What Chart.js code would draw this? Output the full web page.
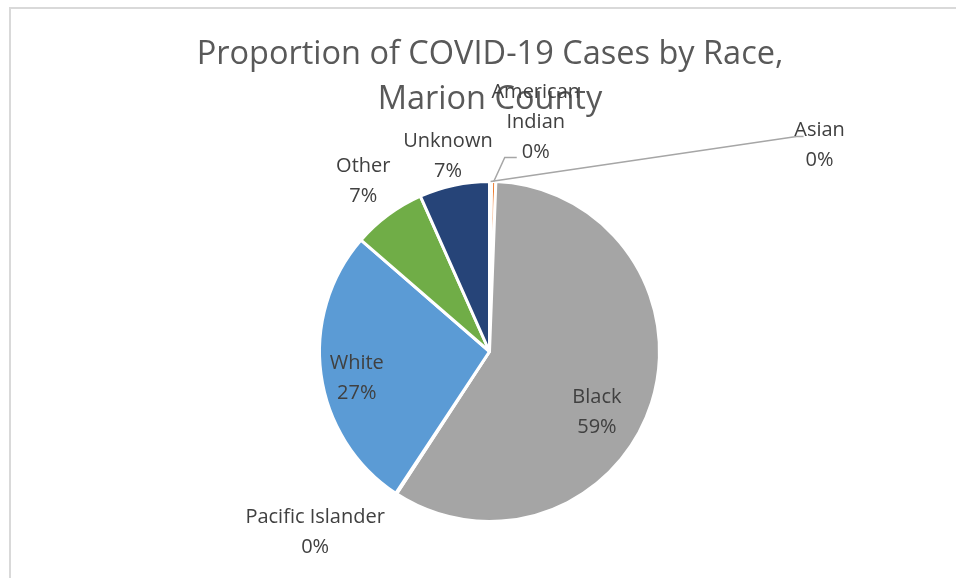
<!DOCTYPE html>
<html>
<head>
<meta charset="utf-8">
<script src="https://cdn.jsdelivr.net/npm/chart.js@4"></script>
<style>
  body { margin: 0; background: #fff; }
  #wrap { position: relative; width: 956px; height: 578px; overflow: hidden; }
  #frame { position: absolute; left: 9px; top: 7px; width: 1000px; height: 700px;
           border-top: 2px solid #d9d9d9; border-left: 2px solid #d9d9d9; }
  canvas { position: absolute; left: 0; top: 0; }
</style>
</head>
<body>
<div id="wrap">
  <div id="frame"></div>
  <canvas id="race-chart" width="956" height="578"></canvas>
</div>
<script>
const categories = ["Asian", "American Indian", "Black", "Pacific Islander", "White", "Other", "Unknown"];
const caseShares = [0.2, 0.4, 58.9, 0.1, 27.2, 7.0, 6.7];
const labelLines = [["Asian"], ["American", "Indian"], ["Black"], ["Pacific Islander"], ["White"], ["Other"], ["Unknown"]];
const sliceColors = ["#4472C4", "#ED7D31", "#A5A5A5", "#FFC000", "#5B9BD5", "#70AD47", "#264478"];
const titleLines = ["Proportion of COVID-19 Cases by Race,", "Marion County"];

// where each label sits: distance from centre (x outer radius) along the slice middle, plus a nudge
const placement = {
    "Asian": { k: 1, dx: 329, dy: -36, leader: [[-23, -9], [-16, -9]] },
    "American Indian": { k: 1, dx: 42, dy: -59, leader: [[-31, 35], [-19, 35]] },
    "Black": { k: 0.70, dx: -6, dy: 25 },
    "Pacific Islander": { k: 1, dx: -81, dy: 39 },
    "White": { k: 0.80, dx: 2, dy: 8 },
    "Other": { k: 1.247, dx: 0, dy: 0 },
    "Unknown": { k: 1.176, dx: 0, dy: 0 }
};

const pieLabels = {
    id: "pieLabels",
    afterDraw(chart) {
        const ctx = chart.ctx;
        const arcs = chart.getDatasetMeta(0).data;
        const total = caseShares.reduce((a, b) => a + b, 0);

        ctx.save();
        ctx.textAlign = "center";
        ctx.textBaseline = "middle";

        // title
        ctx.fillStyle = "#595959";
        ctx.font = "32.5px 'Open Sans', sans-serif";
        titleLines.forEach((t, i) => ctx.fillText(t, 490, 55 + i * 45));

        ctx.font = "20px 'Open Sans', sans-serif";
        arcs.forEach((arc, i) => {
            const p = placement[categories[i]];
            const a = arc.getProps(["x", "y", "startAngle", "endAngle", "outerRadius"], true);
            const mid = (a.startAngle + a.endAngle) / 2;
            const r = a.outerRadius * p.k;
            const cx = a.x + Math.cos(mid) * r + p.dx;
            const cy = a.y + Math.sin(mid) * r + p.dy;

            if (p.leader) {
                ctx.strokeStyle = "#a6a6a6";
                ctx.lineWidth = 1.5;
                ctx.beginPath();
                ctx.moveTo(a.x + Math.cos(mid) * a.outerRadius, a.y + Math.sin(mid) * a.outerRadius);
                p.leader.forEach(pt => ctx.lineTo(cx + pt[0], cy + pt[1]));
                ctx.stroke();
            }

            const lines = labelLines[i].concat([Math.round(caseShares[i] / total * 100) + "%"]);
            ctx.fillStyle = "#404040";
            lines.forEach((t, j) => ctx.fillText(t, cx, cy + (j - (lines.length - 1) / 2) * 30));
        });
        ctx.restore();
    }
};

new Chart(document.getElementById("race-chart").getContext("2d"), {
    type: "pie",
    data: {
        labels: categories,
        datasets: [{
            data: caseShares,
            backgroundColor: sliceColors,
            borderColor: "#ffffff",
            borderWidth: 3
        }]
    },
    options: {
        responsive: false,
        animation: false,
        events: [],
        layout: { padding: { top: 180, bottom: 55, left: 148, right: 125 } },
        plugins: {
            legend: { display: false },
            title: { display: false },
            tooltip: { enabled: false }
        }
    },
    plugins: [pieLabels]
});
</script>
</body>
</html>
